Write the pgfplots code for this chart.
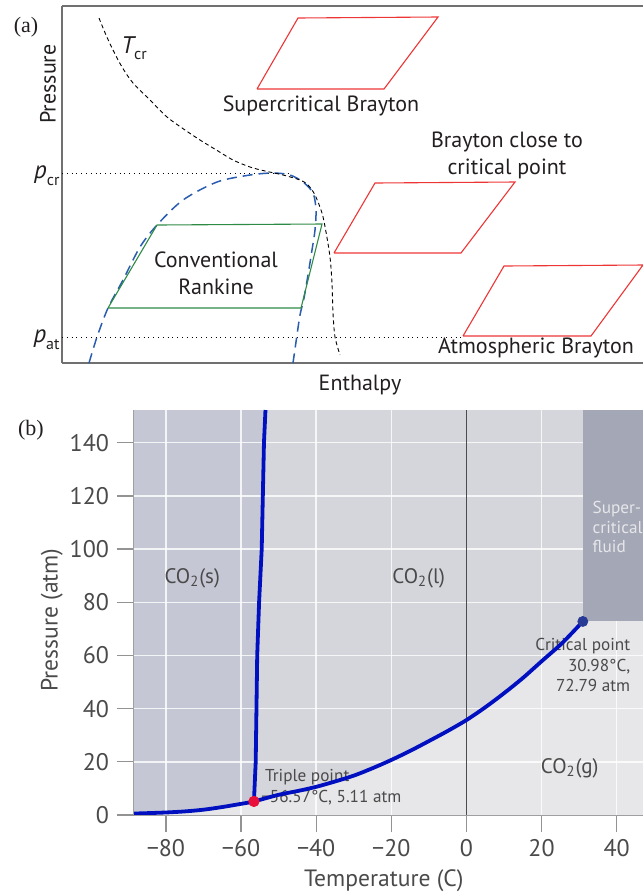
\documentclass[border=0pt]{standalone}
\usepackage{pgfplots}
\pgfplotsset{compat=1.18}
\usepackage{fontspec}
\setmainfont{PT Sans}
\newfontfamily\serif{Liberation Serif}
\definecolor{atxt}{HTML}{231F20}
\definecolor{btxt}{HTML}{4A4A4A}
\definecolor{aaxis}{HTML}{707070}
\definecolor{bred}{HTML}{EE3535}
\definecolor{bgreen}{HTML}{2E8B45}
\definecolor{dome}{HTML}{2A5DB0}
\definecolor{gasc}{HTML}{E7E7E9}
\definecolor{liqc}{HTML}{D5D6DB}
\definecolor{solc}{HTML}{C5C8D4}
\definecolor{scc}{HTML}{A3A7B6}
\definecolor{curve}{HTML}{0010C0}
\definecolor{tpc}{HTML}{E8103A}
\definecolor{cpc}{HTML}{283A96}
\tikzset{atext/.style={font=\fontsize{11}{13.5}\selectfont, text=atxt}}
\newcommand\tkf{\fontsize{12}{14}\selectfont}
\begin{document}
\begin{tikzpicture}
\useasboundingbox (0,0) rectangle (321.5pt,-448pt);
\node[font=\serif\fontsize{11}{13}\selectfont, text=atxt] at (13pt,-13.5pt) {(a)};
\node[font=\serif\fontsize{11}{13}\selectfont, text=atxt] at (15.5pt,-215pt) {(b)};
% ---------------- panel (a)
\begin{axis}[
  at={(31pt,-181.5pt)}, anchor=south west,
  scale only axis, width=290.5pt, height=178.5pt,
  xmin=62, xmax=643, ymin=6, ymax=363, y dir=reverse,
  axis x line=box, axis y line=left,
  axis line style={-, draw=aaxis, line width=0.9pt},
  xtick=\empty, ytick=\empty, clip=false,
]
\addplot[black, line width=0.4pt, dotted] coordinates {(62,173) (290,173)};
\addplot[black, line width=0.4pt, dotted] coordinates {(62,337) (463,337)};
\addplot[dome, line width=0.75pt, dash pattern=on 5pt off 3pt, smooth] coordinates {
(89,363) (97,337) (108,308) (123,280) (140,247) (157,225) (183,200) (217,182)
(250,175) (273,173) (290,175) (303,182) (313,193) (316,210) (315,230) (312,250)
(308,275) (304,298) (300,315) (297,335) (293,363)};
\addplot[black, line width=0.45pt, dash pattern=on 2pt off 1.5pt, smooth] coordinates {
(99,18) (106,35) (113,50) (122,67) (133,83) (150,100) (167,117) (185,130)
(200,140) (218,151) (233,160) (250,167) (265,171) (283,175) (300,180) (308,185)
(315,195) (322,213) (326,232) (330,257) (332,283) (333,313) (335,337) (340,355)};
\addplot[bgreen, line width=0.55pt] coordinates {(108,308) (157,225) (322,224) (301,308) (108,308)};
\addplot[bred, line width=0.55pt] coordinates {(257,89) (298,18) (438,17) (384,89) (257,89)};
\addplot[bred, line width=0.55pt] coordinates {(334,253) (375,183) (515,182) (461,253) (334,253)};
\addplot[bred, line width=0.55pt] coordinates {(463,336) (504,266) (643,265) (591,336) (463,336)};
\node[atext] at (axis cs:321,106) {Supercritical Brayton};
\node[atext, align=center] at (axis cs:507,155) {Brayton close to\\critical point};
\node[atext, align=center] at (axis cs:216,273.5) {Conventional\\Rankine};
\node[atext] at (axis cs:536,348) {Atmospheric Brayton};
\node[atext] at (axis cs:360,385) {Enthalpy};
\node[atext, rotate=90] at (axis cs:48,84) {Pressure};
\node[atext, anchor=base west, inner sep=0pt, font=\fontsize{12}{13}\selectfont] at (axis cs:121,53) {\itshape T\upshape\raisebox{-0.5ex}{\fontsize{8}{9}\selectfont cr}};
\node[atext, anchor=base east, inner sep=0pt, font=\fontsize{12.5}{13}\selectfont] at (axis cs:60,178) {\itshape p\upshape\raisebox{-0.6ex}{\fontsize{8}{9}\selectfont cr}};
\node[atext, anchor=base east, inner sep=0pt, font=\fontsize{12.5}{13}\selectfont] at (axis cs:60,342) {\itshape p\upshape\raisebox{-0.6ex}{\fontsize{8}{9}\selectfont at}};
\end{axis}
% ---------------- panel (b)
\begin{axis}[
  at={(67pt,-407.5pt)}, anchor=south west,
  scale only axis, width=254.5pt, height=202.5pt,
  xmin=-88.5, xmax=47, ymin=0, ymax=152.3,
  axis on top,
  axis background/.style={fill=gasc},
  axis x line=bottom, axis y line=left,
  axis line style={-, draw=gray!75, line width=0.5pt},
  tick align=outside, major tick length=8.5pt,
  tick style={gray!85, line width=0.6pt},
  /pgf/number format/assume math mode=true,
  xtick={-80,-60,-40,-20,0,20,40},
  xticklabels={{\tkf −80},{\tkf −60},{\tkf −40},{\tkf −20},{\tkf 0},{\tkf 20},{\tkf 40}},
  ytick={0,20,40,60,80,100,120,140},
  yticklabels={{\tkf 0},{\tkf 20},{\tkf 40},{\tkf 60},{\tkf 80},{\tkf 100},{\tkf 120},{\tkf 140}},
  xticklabel style={font=\tkf, text=btxt},
  yticklabel style={font=\tkf, text=btxt, xshift=-0.5pt},
  clip=false,
]
\addplot[fill=solc, draw=none] coordinates {
(-88.5,152.3) (-88.5,0.55) (-85,0.7) (-80,0.95) (-75,1.35) (-70,2.0) (-65,3.0) (-60,4.2) (-56.57,5.11)
(-56.1,20) (-55.9,40) (-55.7,60) (-55.2,80) (-54.5,100) (-53.9,140) (-53.5,152.3)};
\addplot[fill=liqc, draw=none] coordinates {
(-56.57,5.11) (-50,7.6) (-45,9.0) (-40,10.6) (-35,12.6) (-30,14.8) (-25,17.6) (-20,20.7)
(-15,24.1) (-10,27.8) (-5,31.6) (0,35.7) (5,40.5) (10,45.8) (15,51.5) (20,57.8) (25,64.0)
(28,68.3) (30.98,72.79) (30.98,152.3) (-53.5,152.3) (-53.9,140) (-54.5,100) (-55.2,80)
(-55.7,60) (-55.9,40) (-56.1,20) (-56.57,5.11)};
\pgfplotsinvokeforeach{-80,-60,-40,-20,20,40}{
  \addplot[white, opacity=0.8, line width=0.7pt] coordinates {(#1,0) (#1,152.3)};
}
\pgfplotsinvokeforeach{20,40,60,80,100,120,140}{
  \addplot[white, opacity=0.8, line width=0.7pt] coordinates {(-88.5,#1) (47,#1)};
}
\addplot[fill=scc, draw=none] coordinates {(30.98,72.79) (47,72.79) (47,152.3) (30.98,152.3)};
\addplot[gray!60!black, line width=0.5pt] coordinates {(0,0) (0,152.3)};
\node[font=\fontsize{10.5}{12}\selectfont, text=btxt] at (axis cs:-73.0,89.1) {CO\textsubscript{2}(s)};
\node[font=\fontsize{10.5}{12}\selectfont, text=btxt] at (axis cs:-12.7,89.1) {CO\textsubscript{2}(l)};
\node[font=\fontsize{10.5}{12}\selectfont, text=btxt] at (axis cs:27.5,17.7) {CO\textsubscript{2}(g)};
\node[font=\fontsize{8.6}{9.75}\selectfont, text=gasc, align=left, anchor=west, inner sep=0pt] at (axis cs:33.5,108.3) {Super-\\critical\\fluid};
\node[font=\fontsize{8.6}{10.25}\selectfont, text=btxt, align=right, anchor=east, inner sep=0pt] at (axis cs:43.7,56.4) {Critical point\\30.98°C,\\72.79 atm};
\node[font=\fontsize{8.6}{10.25}\selectfont, text=btxt, anchor=west, inner sep=0pt] at (axis cs:-53.7,14.3) {Triple point};
\node[font=\fontsize{8.6}{10.25}\selectfont, text=btxt, anchor=east, inner sep=0pt] at (axis cs:-17.2,6.4) {−56.57°C, 5.11 atm};
\node[font=\fontsize{11.8}{13}\selectfont, text=btxt] at (axis cs:-22.0,-24.8) {Temperature (C)};
\node[font=\fontsize{11.8}{13}\selectfont, text=btxt, rotate=90] at (axis cs:-110.4,73.3) {Pressure (atm)};
\addplot[curve, line width=1.9pt, smooth] coordinates {
(-88.5,0.55) (-85,0.7) (-80,0.95) (-75,1.35) (-70,2.0) (-65,3.0) (-60,4.2) (-56.57,5.11)
(-50,7.6) (-45,9.0) (-40,10.6) (-35,12.6) (-30,14.8) (-25,17.6) (-20,20.7)
(-15,24.1) (-10,27.8) (-5,31.6) (0,35.7) (5,40.5) (10,45.8) (15,51.5) (20,57.8) (25,64.0)
(28,68.3) (30.98,72.79)};
\addplot[curve, line width=1.9pt] coordinates {
(-56.57,5.11) (-56.1,20) (-55.9,40) (-55.7,60) (-55.2,80) (-54.5,100) (-53.9,140) (-53.5,152.3)};
\addplot[only marks, mark=*, mark size=2.6pt, mark options={fill=tpc, draw=tpc}] coordinates {(-56.57,5.11)};
\addplot[only marks, mark=*, mark size=2.5pt, mark options={fill=cpc, draw=cpc}] coordinates {(30.98,72.79)};
\end{axis}
\end{tikzpicture}
\end{document}
